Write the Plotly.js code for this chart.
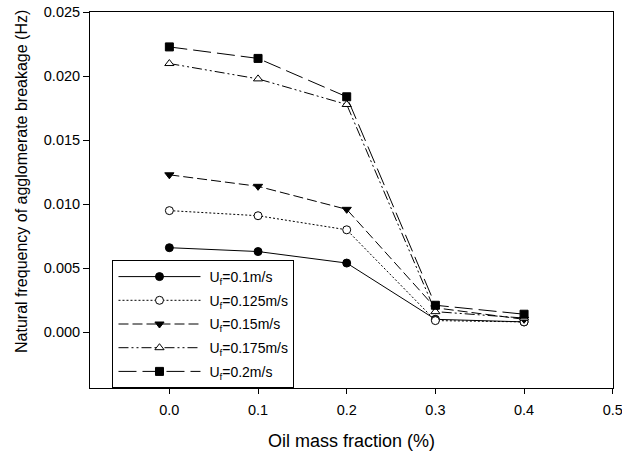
<!DOCTYPE html>
<html>
<head>
<meta charset="utf-8">
<script src="https://cdn.plot.ly/plotly-3.0.1.min.js"></script>
<style>html,body{margin:0;padding:0;background:#fff;}#chart{width:622px;height:452px;}</style>
</head>
<body>
<div id="chart"></div>
<script>
const oilFraction = [0.0, 0.1, 0.2, 0.3, 0.4];
const seriesNames = ["U<sub>f</sub>=0.1m/s", "U<sub>f</sub>=0.125m/s", "U<sub>f</sub>=0.15m/s", "U<sub>f</sub>=0.175m/s", "U<sub>f</sub>=0.2m/s"];
const u010 = [0.0066, 0.0063, 0.0054, 0.0010, 0.0008];
const u0125 = [0.0095, 0.0091, 0.0080, 0.0009, 0.0008];
const u015 = [0.0123, 0.0114, 0.0096, 0.0019, 0.0010];
const u0175 = [0.0210, 0.0198, 0.0178, 0.0016, 0.0011];
const u020 = [0.0223, 0.0214, 0.0184, 0.0021, 0.0014];
const xTitle = "Oil mass fraction (%)";
const yTitle = "Natural frequency of agglomerate breakage (Hz)";

const seriesValues = [u010, u0125, u015, u0175, u020];
const dashes = ["solid", "2px,2px", "10px,4px", "10px,3px,2px,3px,2px,3px", "18px,6px"];
const symbols = ["circle", "circle", "triangle-down", "triangle-up", "square"];
const fills = ["black", "white", "black", "white", "black"];

const traces = seriesValues.map((vals, i) => ({
  x: oilFraction,
  y: vals,
  name: "\u00A0" + seriesNames[i],
  legendgroup: "g" + i,
  type: "scatter",
  mode: "lines+markers",
  line: {color: "black", width: 1, dash: dashes[i]},
  marker: {symbol: symbols[i], size: 8, color: fills[i], line: {color: "black", width: 1}}
}));

const font = "Liberation Sans, Arial, sans-serif";
const layout = {
  width: 622, height: 452,
  margin: {l: 90, r: 9, t: 12, b: 64},
  paper_bgcolor: "white", plot_bgcolor: "white",
  font: {family: font, size: 14, color: "black"},
  showlegend: true,
  legend: {
    x: 0.043, y: 0, xanchor: "left", yanchor: "bottom",
    bordercolor: "black", borderwidth: 1, bgcolor: "white",
    font: {family: font, size: 14, color: "black"},
    itemwidth: 82, tracegroupgap: 2.5, traceorder: "grouped"
  },
  xaxis: {
    range: [-0.0895, 0.5003], dtick: 0.1, tick0: 0, tickformat: ".1f",
    showgrid: false, zeroline: false, showline: true, linecolor: "black", linewidth: 1, mirror: true,
    ticks: "outside", ticklen: 5, tickcolor: "black", ticklabelstandoff: 4, ticklabeloverflow: "allow",
    tickfont: {family: font, size: 14.5},
    title: {text: xTitle, font: {family: font, size: 18}, standoff: 16}
  },
  yaxis: {
    range: [-0.00437, 0.02503], dtick: 0.005, tick0: 0, tickformat: ".3f",
    showgrid: false, zeroline: false, showline: true, linecolor: "black", linewidth: 1, mirror: true,
    ticks: "outside", ticklen: 6, tickcolor: "black",
    tickfont: {family: font, size: 14.5}
  },
  annotations: [{
    text: yTitle, textangle: -90, showarrow: false,
    xref: "paper", yref: "paper", x: -0.13, y: 0.548, xanchor: "center", yanchor: "middle",
    font: {family: font, size: 16, color: "black"}
  }]
};
Plotly.newPlot("chart", traces, layout, {displayModeBar: false, staticPlot: true});
</script>
</body>
</html>
